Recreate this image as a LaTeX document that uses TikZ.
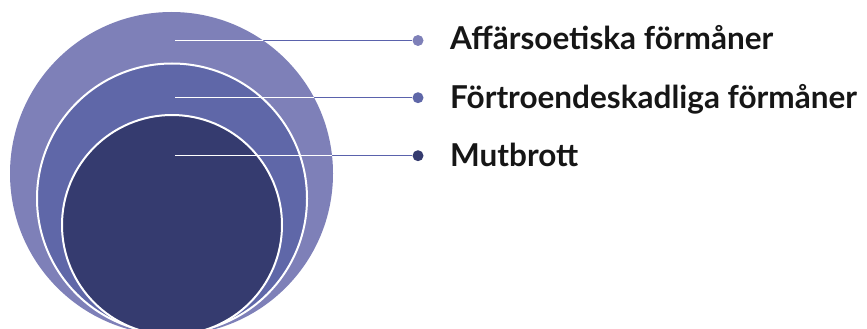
\documentclass[tikz,border=0pt]{standalone}
\usepackage{fontspec}
\setmainfont{Lato}
\definecolor{cOuter}{HTML}{7E80B8}
\definecolor{cMid}{HTML}{5F67A8}
\definecolor{cIn}{HTML}{353B6F}
\definecolor{cLine}{HTML}{5A62AC}
\definecolor{cText}{HTML}{161616}
\tikzset{
  ring/.style={draw=white, line width=2pt},
  leader/.style={draw=cLine, line width=1.2pt},
  dotm/.style={circle, inner sep=0pt, minimum size=11pt},
  lbl/.style={anchor=base west, inner sep=0pt, text=cText, font=\fontsize{31.5}{34}\selectfont\bfseries}
}
\begin{document}
\begin{tikzpicture}[x=1pt,y=-1pt]
\useasboundingbox (0,0) rectangle (867,329);
\begin{scope}
\clip (0,0) rectangle (867,329);
\path[fill=cOuter] (171.5,173.5) circle[radius=161.5];
\path[fill=cMid, ring] (172,198.5) circle[radius=135];
\path[fill=cIn, ring] (172,225) circle[radius=110];
\end{scope}
\coordinate (s1) at (175,40.5);
\coordinate (s2) at (175,97.7);
\coordinate (s3) at (175,155.7);
\node[dotm, fill=cOuter] (d1) at (418,40.5) {};
\node[dotm, fill=cMid] (d2) at (418,97.7) {};
\node[dotm, fill=cIn] (d3) at (418,155.7) {};
\draw[leader] (s1) -- (d1);
\draw[leader] (s2) -- (d2);
\draw[leader] (s3) -- (d3);
\begin{scope}
\clip (171.5,173.5) circle[radius=161.5];
\draw[white, line width=1.2pt] (s1) -- (d1);
\draw[white, line width=1.2pt] (s2) -- (d2);
\draw[white, line width=1.2pt] (s3) -- (d3);
\end{scope}
\node[lbl] (t1) at (450,50) {Affärsoetiska förmåner};
\node[lbl] (t2) at (450,108) {Förtroendeskadliga förmåner};
\node[lbl] (t3) at (450,166) {Mutbrott};
\end{tikzpicture}
\end{document}
